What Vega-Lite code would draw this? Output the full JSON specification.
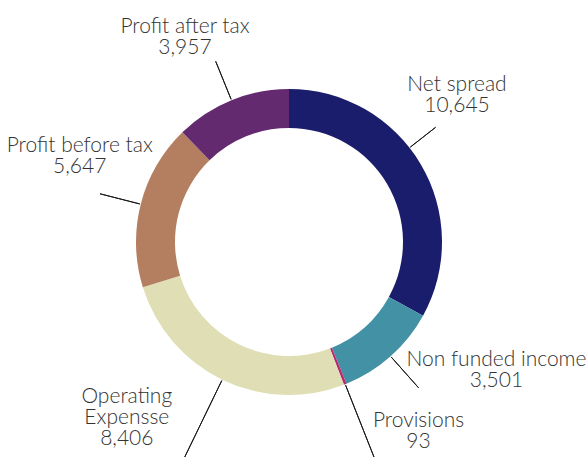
{
  "$schema": "https://vega.github.io/schema/vega-lite/v6.json",
  "width": 578,
  "height": 430,
  "autosize": {"type": "none"},
  "padding": {"left": 0, "top": 27, "right": 8, "bottom": 0},
  "background": "white",
  "config": {"view": {"stroke": null}},
  "data": {
    "values": [
      {"category": "Net spread", "value": 10645},
      {"category": "Non funded income", "value": 3501},
      {"category": "Provisions", "value": 93},
      {"category": "Operating Expensse", "value": 8406},
      {"category": "Profit before tax", "value": 5647},
      {"category": "Profit after tax", "value": 3957}
    ]
  },
  "transform": [
    {"window": [{"op": "row_number", "as": "idx"}]},
    {"window": [{"op": "sum", "field": "value", "as": "cum"}], "sort": [{"field": "idx"}]},
    {"window": [{"op": "sum", "field": "cum", "as": "cum2"}], "frame": [-1, 0], "sort": [{"field": "idx"}]}
  ],
  "resolve": {"scale": {"theta": "independent"}},
  "layer": [
    {
      "mark": {"type": "arc", "outerRadius": 153, "innerRadius": 114},
      "encoding": {
        "theta": {"field": "value", "type": "quantitative", "stack": true},
        "order": {"field": "idx", "type": "quantitative"},
        "color": {
          "field": "category", "type": "nominal", "legend": null,
          "scale": {
            "domain": ["Net spread", "Non funded income", "Provisions", "Operating Expensse", "Profit before tax", "Profit after tax"],
            "range": ["#1a1c6c", "#4291a5", "#b72a72", "#dfdeb4", "#b47e61", "#632a70"]
          }
        }
      }
    },
    {
      "transform": [{"filter": {"field": "category", "equal": "Net spread"}}],
      "mark": {"type": "arc", "radius": 186, "radius2": 154, "thetaOffset": -0.13, "theta2Offset": -0.13, "filled": false, "stroke": "#1a1a1a", "strokeWidth": 1},
      "encoding": {
        "theta": {"field": "cum2", "type": "quantitative", "scale": {"domain": [0, 64498]}},
        "theta2": {"field": "cum2"}
      }
    },
    {
      "transform": [{"filter": {"field": "category", "oneOf": ["Non funded income", "Profit before tax", "Profit after tax"]}}],
      "mark": {"type": "arc", "radius": 195, "radius2": 154, "filled": false, "stroke": "#1a1a1a", "strokeWidth": 1},
      "encoding": {
        "theta": {"field": "cum2", "type": "quantitative", "scale": {"domain": [0, 64498]}},
        "theta2": {"field": "cum2"}
      }
    },
    {
      "transform": [{"filter": {"field": "category", "oneOf": ["Provisions", "Operating Expensse"]}}],
      "mark": {"type": "arc", "radius": 245, "radius2": 154, "filled": false, "stroke": "#1a1a1a", "strokeWidth": 1},
      "encoding": {
        "theta": {"field": "cum2", "type": "quantitative", "scale": {"domain": [0, 64498]}},
        "theta2": {"field": "cum2"}
      }
    },
    {
      "mark": {"type": "text", "radius": 225.9, "thetaOffset": -0.1984, "align": "center", "baseline": "alphabetic", "font": "Lato", "fontSize": 21, "fontWeight": 300, "fill": "#333333"},
      "encoding": {
        "theta": {"field": "value", "type": "quantitative", "stack": true},
        "order": {"field": "idx", "type": "quantitative"},
        "detail": {"field": "category", "type": "nominal"},
        "text": {"condition": {"test": "datum.category === 'Net spread'", "field": "category", "type": "nominal"}, "value": ""}
      }
    },
    {
      "mark": {"type": "text", "radius": 225.9, "thetaOffset": -0.1984, "dy": 21, "align": "center", "baseline": "alphabetic", "font": "Lato", "fontSize": 21, "fontWeight": 300, "fill": "#333333"},
      "encoding": {
        "theta": {"field": "value", "type": "quantitative", "stack": true},
        "order": {"field": "idx", "type": "quantitative"},
        "detail": {"field": "category", "type": "nominal"},
        "text": {"condition": {"test": "datum.category === 'Net spread'", "field": "value", "type": "quantitative", "format": ","}, "value": ""}
      }
    },
    {
      "mark": {"type": "text", "radius": 241.7, "thetaOffset": -0.3056, "align": "center", "baseline": "alphabetic", "font": "Lato", "fontSize": 21, "fontWeight": 300, "fill": "#333333"},
      "encoding": {
        "theta": {"field": "value", "type": "quantitative", "stack": true},
        "order": {"field": "idx", "type": "quantitative"},
        "detail": {"field": "category", "type": "nominal"},
        "text": {"condition": {"test": "datum.category === 'Non funded income'", "field": "category", "type": "nominal"}, "value": ""}
      }
    },
    {
      "mark": {"type": "text", "radius": 241.7, "thetaOffset": -0.3056, "dy": 21, "align": "center", "baseline": "alphabetic", "font": "Lato", "fontSize": 21, "fontWeight": 300, "fill": "#333333"},
      "encoding": {
        "theta": {"field": "value", "type": "quantitative", "stack": true},
        "order": {"field": "idx", "type": "quantitative"},
        "detail": {"field": "category", "type": "nominal"},
        "text": {"condition": {"test": "datum.category === 'Non funded income'", "field": "value", "type": "quantitative", "format": ","}, "value": ""}
      }
    },
    {
      "mark": {"type": "text", "radius": 225.6, "thetaOffset": -0.2351, "align": "center", "baseline": "alphabetic", "font": "Lato", "fontSize": 21, "fontWeight": 300, "fill": "#333333"},
      "encoding": {
        "theta": {"field": "value", "type": "quantitative", "stack": true},
        "order": {"field": "idx", "type": "quantitative"},
        "detail": {"field": "category", "type": "nominal"},
        "text": {"condition": {"test": "datum.category === 'Provisions'", "field": "category", "type": "nominal"}, "value": ""}
      }
    },
    {
      "mark": {"type": "text", "radius": 225.6, "thetaOffset": -0.2351, "dy": 21, "align": "center", "baseline": "alphabetic", "font": "Lato", "fontSize": 21, "fontWeight": 300, "fill": "#333333"},
      "encoding": {
        "theta": {"field": "value", "type": "quantitative", "stack": true},
        "order": {"field": "idx", "type": "quantitative"},
        "detail": {"field": "category", "type": "nominal"},
        "text": {"condition": {"test": "datum.category === 'Provisions'", "field": "value", "type": "quantitative", "format": ","}, "value": ""}
      }
    },
    {
      "mark": {"type": "text", "radius": 228.3, "thetaOffset": 0.3386, "lineBreak": " ", "lineHeight": 21, "align": "center", "baseline": "alphabetic", "font": "Lato", "fontSize": 21, "fontWeight": 300, "fill": "#333333"},
      "encoding": {
        "theta": {"field": "value", "type": "quantitative", "stack": true},
        "order": {"field": "idx", "type": "quantitative"},
        "detail": {"field": "category", "type": "nominal"},
        "text": {"condition": {"test": "datum.category === 'Operating Expensse'", "field": "category", "type": "nominal"}, "value": ""}
      }
    },
    {
      "mark": {"type": "text", "radius": 228.3, "thetaOffset": 0.3386, "dy": 42, "align": "center", "baseline": "alphabetic", "font": "Lato", "fontSize": 21, "fontWeight": 300, "fill": "#333333"},
      "encoding": {
        "theta": {"field": "value", "type": "quantitative", "stack": true},
        "order": {"field": "idx", "type": "quantitative"},
        "detail": {"field": "category", "type": "nominal"},
        "text": {"condition": {"test": "datum.category === 'Operating Expensse'", "field": "value", "type": "quantitative", "format": ","}, "value": ""}
      }
    },
    {
      "mark": {"type": "text", "radius": 227.7, "thetaOffset": 0.1552, "align": "center", "baseline": "alphabetic", "font": "Lato", "fontSize": 21, "fontWeight": 300, "fill": "#333333"},
      "encoding": {
        "theta": {"field": "value", "type": "quantitative", "stack": true},
        "order": {"field": "idx", "type": "quantitative"},
        "detail": {"field": "category", "type": "nominal"},
        "text": {"condition": {"test": "datum.category === 'Profit before tax'", "field": "category", "type": "nominal"}, "value": ""}
      }
    },
    {
      "mark": {"type": "text", "radius": 227.7, "thetaOffset": 0.1552, "dy": 21, "align": "center", "baseline": "alphabetic", "font": "Lato", "fontSize": 21, "fontWeight": 300, "fill": "#333333"},
      "encoding": {
        "theta": {"field": "value", "type": "quantitative", "stack": true},
        "order": {"field": "idx", "type": "quantitative"},
        "detail": {"field": "category", "type": "nominal"},
        "text": {"condition": {"test": "datum.category === 'Profit before tax'", "field": "value", "type": "quantitative", "format": ","}, "value": ""}
      }
    },
    {
      "mark": {"type": "text", "radius": 233.2, "thetaOffset": -0.0768, "align": "center", "baseline": "alphabetic", "font": "Lato", "fontSize": 21, "fontWeight": 300, "fill": "#333333"},
      "encoding": {
        "theta": {"field": "value", "type": "quantitative", "stack": true},
        "order": {"field": "idx", "type": "quantitative"},
        "detail": {"field": "category", "type": "nominal"},
        "text": {"condition": {"test": "datum.category === 'Profit after tax'", "field": "category", "type": "nominal"}, "value": ""}
      }
    },
    {
      "mark": {"type": "text", "radius": 233.2, "thetaOffset": -0.0768, "dy": 21, "align": "center", "baseline": "alphabetic", "font": "Lato", "fontSize": 21, "fontWeight": 300, "fill": "#333333"},
      "encoding": {
        "theta": {"field": "value", "type": "quantitative", "stack": true},
        "order": {"field": "idx", "type": "quantitative"},
        "detail": {"field": "category", "type": "nominal"},
        "text": {"condition": {"test": "datum.category === 'Profit after tax'", "field": "value", "type": "quantitative", "format": ","}, "value": ""}
      }
    }
  ]
}
